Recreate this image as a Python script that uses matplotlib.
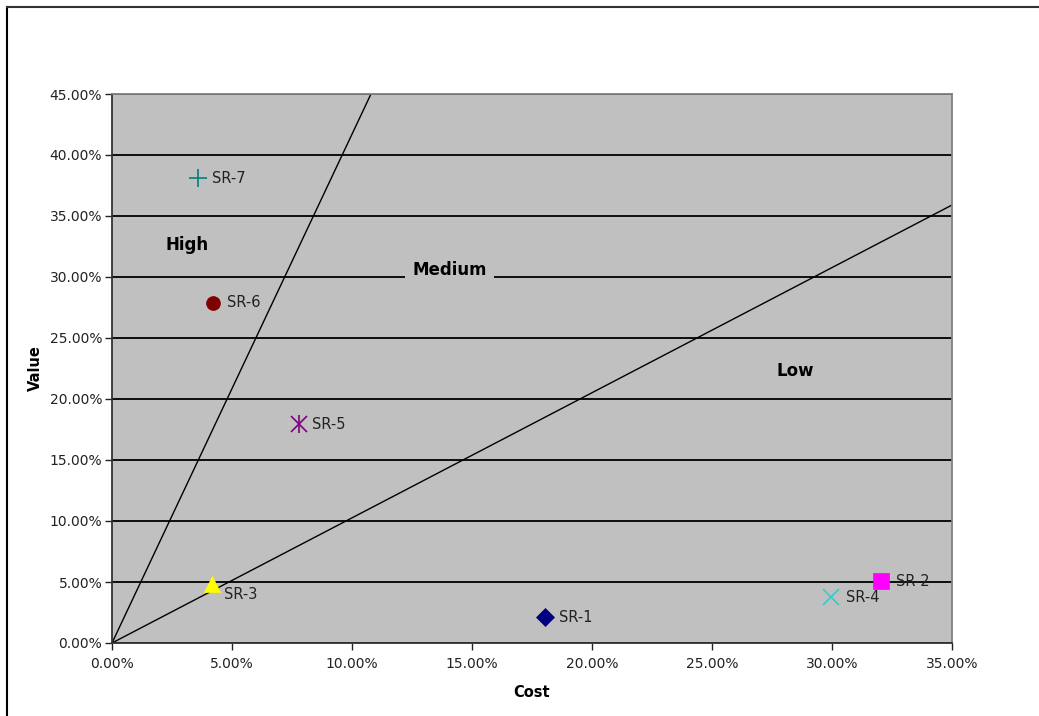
import numpy as np
import matplotlib
matplotlib.use("Agg")
import matplotlib.pyplot as plt
from matplotlib.ticker import PercentFormatter, MultipleLocator
from matplotlib.lines import Line2D

plt.rcParams['font.family'] = ['DejaVu Sans']

# data (fractions)
names = ['SR-1', 'SR-2', 'SR-3', 'SR-4', 'SR-5', 'SR-6', 'SR-7']
cost = [0.1804, 0.3204, 0.0417, 0.2996, 0.0780, 0.0420, 0.0358]
value = [0.0213, 0.0508, 0.0484, 0.0377, 0.1795, 0.2790, 0.3810]

# boundary lines between regions
high_x = [0.0, 0.1079]
high_y = [0.0, 0.45]
low_x = [0.0, 0.35]
low_y = [0.0, 0.359]

region_names = ['High', 'Medium', 'Low']
region_x = [0.0221, 0.1250, 0.2770]
region_y = [0.3260, 0.3055, 0.2230]

# marker styles
markers = ['D', 's', '^', 'x', 'x', 'o', '+']
colors = ['#000080', '#FF00FF', '#FFFF00', '#33CCCC', '#800080', '#800000', '#008080']
sizes = [9, 11, 11, 12, 11, 10, 13]
label_off = [(14, 0), (15, 0), (12, -11), (15, 0), (13, 0), (14, 0), (14, 0)]

fig = plt.figure(figsize=(10.39, 7.16), dpi=100)
ax = fig.add_axes([112 / 1039, 1 - 643 / 716, 840 / 1039, 549 / 716])
ax.set_facecolor('#C0C0C0')

ax.set_xlim(0, 0.35)
ax.set_ylim(0, 0.45)
ax.xaxis.set_major_locator(MultipleLocator(0.05))
ax.yaxis.set_major_locator(MultipleLocator(0.05))
ax.xaxis.set_major_formatter(PercentFormatter(xmax=1, decimals=2))
ax.yaxis.set_major_formatter(PercentFormatter(xmax=1, decimals=2))
ax.grid(axis='y', color='black', linewidth=1.3)
ax.set_axisbelow(True)
ax.tick_params(axis='both', direction='out', length=5, width=1, labelsize=10,
               colors='#222222')
ax.tick_params(axis='x', pad=5)
ax.tick_params(axis='y', pad=2)

for side in ['left', 'bottom']:
    ax.spines[side].set_color('#333333')
    ax.spines[side].set_linewidth(1.3)
for side in ['top', 'right']:
    ax.spines[side].set_color('#808080')
    ax.spines[side].set_linewidth(1.3)

ax.plot(high_x, high_y, color='black', linewidth=1)
ax.plot(low_x, low_y, color='black', linewidth=1)

for i in range(len(names)):
    ax.plot(cost[i], value[i], marker=markers[i], color=colors[i],
            markersize=sizes[i], markeredgewidth=1.2 if markers[i] in 'x+' else 0.5,
            linestyle='none', zorder=4)
    if names[i] == 'SR-5':
        ax.plot(cost[i], value[i], marker='|', color=colors[i], markersize=sizes[i] + 2,
                markeredgewidth=1.2, linestyle='none', zorder=4)
    ax.annotate(names[i], (cost[i], value[i]), xytext=label_off[i],
                textcoords='offset pixels', ha='left', va='center',
                fontsize=10.5, color='#222222', zorder=5)

for i in range(len(region_names)):
    t = ax.text(region_x[i], region_y[i], region_names[i], fontsize=12,
                fontweight='bold', ha='left', va='center', zorder=5)
    if region_names[i] == 'Medium':
        t.set_bbox(dict(facecolor='#C0C0C0', edgecolor='none', pad=5))

ax.set_xlabel('Cost', fontsize=10.5, fontweight='bold', labelpad=10)
ax.set_ylabel('Value', fontsize=10.5, fontweight='bold', labelpad=5)

# chart-area border (left and top visible)
fig.add_artist(Line2D([7 / 1039, 7 / 1039], [0, 1 - 7 / 716], color='black',
                      linewidth=1.5, transform=fig.transFigure))
fig.add_artist(Line2D([7 / 1039, 1], [1 - 7 / 716, 1 - 7 / 716], color='#333333',
                      linewidth=1.5, transform=fig.transFigure))

fig.savefig('out.png', dpi=100)
